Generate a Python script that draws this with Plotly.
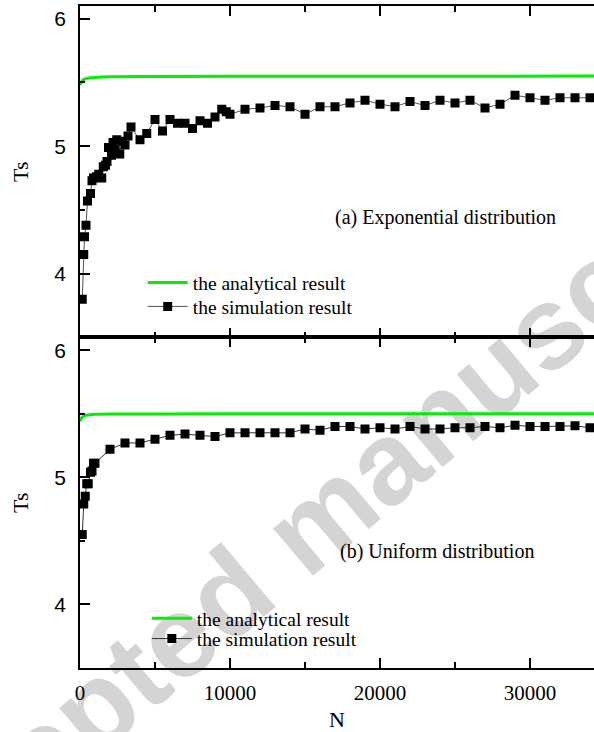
import plotly.graph_objects as go
from plotly.subplots import make_subplots

# ---------------- data ----------------
# (a) Exponential distribution
N_exp = [150, 250, 300, 400, 500, 700, 800, 900, 1100, 1250,
         1450, 1550, 1700, 1800, 1900, 2100, 2200, 2350, 2450, 2650,
         2800, 3000, 3200, 3400, 4000, 4450, 5000, 5500, 6000, 6500,
         7000, 7500, 8000, 8500, 9000, 9450, 9750, 10000, 11000, 12000,
         13000, 14000, 15000, 16000, 17000, 18000, 19000, 20000, 21000, 22000,
         23000, 24000, 25000, 26000, 27000, 28000, 29000, 30000, 31000, 32000,
         33000, 34000]
Ts_exp = [3.80, 4.15, 4.29, 4.38, 4.57, 4.63, 4.73, 4.75, 4.76, 4.78,
          4.75, 4.84, 4.85, 4.88, 4.99, 4.93, 5.03, 4.97, 5.05, 4.94,
          5.04, 5.01, 5.08, 5.15, 5.05, 5.10, 5.21, 5.12, 5.21, 5.18,
          5.18, 5.14, 5.20, 5.18, 5.23, 5.29, 5.27, 5.25, 5.29, 5.30,
          5.32, 5.31, 5.25, 5.31, 5.31, 5.34, 5.36, 5.33, 5.31, 5.35,
          5.32, 5.36, 5.34, 5.36, 5.30, 5.33, 5.40, 5.38, 5.36, 5.38,
          5.38, 5.38]

# (b) Uniform distribution
N_uni = [150, 250, 350, 450, 550, 700, 800, 900, 1000, 2000,
         3000, 4000, 5000, 6000, 7000, 8000, 9000, 10000, 11000, 12000,
         13000, 14000, 15000, 16000, 17000, 18000, 19000, 20000, 21000, 22000,
         23000, 24000, 25000, 26000, 27000, 28000, 29000, 30000, 31000, 32000,
         33000, 34000]
Ts_uni = [4.55, 4.79, 4.85, 4.95, 4.95, 5.04, 5.05, 5.11, 5.11, 5.22,
          5.27, 5.27, 5.30, 5.33, 5.34, 5.33, 5.32, 5.35, 5.35, 5.35,
          5.35, 5.35, 5.38, 5.37, 5.40, 5.40, 5.38, 5.39, 5.38, 5.40,
          5.38, 5.38, 5.39, 5.39, 5.40, 5.39, 5.41, 5.40, 5.40, 5.40,
          5.405, 5.39]

# analytical results
N_ana = [0, 100, 200, 400, 700, 1000, 2000, 5000, 10000, 20000, 34300]
Ts_ana_exp = [5.48, 5.505, 5.52, 5.53, 5.537, 5.54, 5.545, 5.547, 5.548, 5.549, 5.55]
Ts_ana_uni = [5.44, 5.465, 5.478, 5.488, 5.493, 5.495, 5.497, 5.498, 5.499, 5.50, 5.50]

x_ticks = [0, 10000, 20000, 30000]
x_ticklabels = ["0", "10000", "20000", "30000"]
y_ticks = [4, 5, 6]
y_ticklabels = ["4", "5", "6"]

SERIF = "Liberation Serif, Times New Roman, serif"
SANS = "Liberation Sans, Arial, sans-serif"
GREEN = "#00f000"

fig = make_subplots(rows=2, cols=1, shared_xaxes=True, vertical_spacing=0)

# top panel
fig.add_trace(go.Scatter(x=N_ana, y=Ts_ana_exp, mode="lines", name="the analytical result",
                         line=dict(color=GREEN, width=3, shape="spline"), legend="legend"),
              row=1, col=1)
fig.add_trace(go.Scatter(x=N_exp, y=Ts_exp, mode="lines+markers", name="the simulation result",
                         line=dict(color="#555555", width=1),
                         marker=dict(symbol="square", size=9, color="black"),
                         legend="legend2"),
              row=1, col=1)
# bottom panel
fig.add_trace(go.Scatter(x=N_ana, y=Ts_ana_uni, mode="lines", name="the analytical result",
                         line=dict(color=GREEN, width=3, shape="spline"), legend="legend3"),
              row=2, col=1)
fig.add_trace(go.Scatter(x=N_uni, y=Ts_uni, mode="lines+markers", name="the simulation result",
                         line=dict(color="#333333", width=1),
                         marker=dict(symbol="square", size=9, color="black"),
                         legend="legend4"),
              row=2, col=1)

xcommon = dict(range=[0, 34267], tickvals=x_ticks, ticktext=x_ticklabels,
               ticks="inside", ticklen=10, tickwidth=1.5, tickcolor="black",
               minor=dict(dtick=5000, tick0=0, ticks="inside", ticklen=6, tickwidth=1.5, tickcolor="black"),
               showline=True, linewidth=1.5, linecolor="black", mirror="ticks",
               showgrid=False, zeroline=False,
               tickfont=dict(family=SERIF, size=21, color="black"), ticklabelstandoff=5)
ycommon = dict(range=[3.5, 6.1], tickvals=y_ticks, ticktext=y_ticklabels,
               ticks="inside", ticklen=10, tickwidth=1.5, tickcolor="black",
               minor=dict(dtick=0.5, tick0=0, ticks="inside", ticklen=5, tickwidth=1.5, tickcolor="black"),
               showline=True, linewidth=1.5, linecolor="black", mirror=False,
               showgrid=False, zeroline=False,
               tickfont=dict(family=SANS, size=21, color="black"), ticklabelstandoff=8,
               title=dict(text="Ts", font=dict(family=SERIF, size=22, color="black"), standoff=20))

fig.update_xaxes(**xcommon)
fig.update_xaxes(showticklabels=False, row=1, col=1)
fig.update_xaxes(title=dict(text="N", font=dict(family=SERIF, size=22, color="black"), standoff=12),
                 row=2, col=1)
fig.update_yaxes(**ycommon)
fig.update_layout(yaxis=dict(domain=[0.4993, 1.0]), yaxis2=dict(domain=[0.0, 0.4993]))

legend_common = dict(xref="paper", yref="paper", xanchor="left", yanchor="middle",
                     bgcolor="rgba(0,0,0,0)", borderwidth=0, tracegroupgap=0,
                     font=dict(family=SERIF, size=19.5, color="black"), itemwidth=40)

fig.update_layout(
    width=594, height=732,
    margin=dict(l=80, r=0, t=6, b=59),
    paper_bgcolor="white", plot_bgcolor="white",
    showlegend=True,
    legend=dict(x=0.122, y=0.5817, **legend_common),
    legend2=dict(x=0.122, y=0.5457, **legend_common),
    legend3=dict(x=0.130, y=0.0745, **legend_common),
    legend4=dict(x=0.130, y=0.0440, **legend_common),
    annotations=[
        dict(text="(a) Exponential distribution", xref="paper", yref="paper",
             x=0.712, y=0.680, xanchor="center", yanchor="middle", showarrow=False,
             font=dict(family=SERIF, size=20, color="black")),
        dict(text="(b) Uniform distribution", xref="paper", yref="paper",
             x=0.6946, y=0.1760, xanchor="center", yanchor="middle", showarrow=False,
             font=dict(family=SERIF, size=20, color="black")),
    ],
    shapes=[
        dict(type="line", xref="paper", yref="paper",
             x0=0.3628, y0=0.0490, x1=0.6609, y1=0.2418,
             line=dict(width=0, color="rgba(0,0,0,0)"), layer="below",
             label=dict(text="Accepted manuscript", textangle=-40, textposition="middle",
                        font=dict(family=SANS, size=117, color="#d4d4d4", weight="bold"))),
    ],
)

fig.write_html("out.html")
